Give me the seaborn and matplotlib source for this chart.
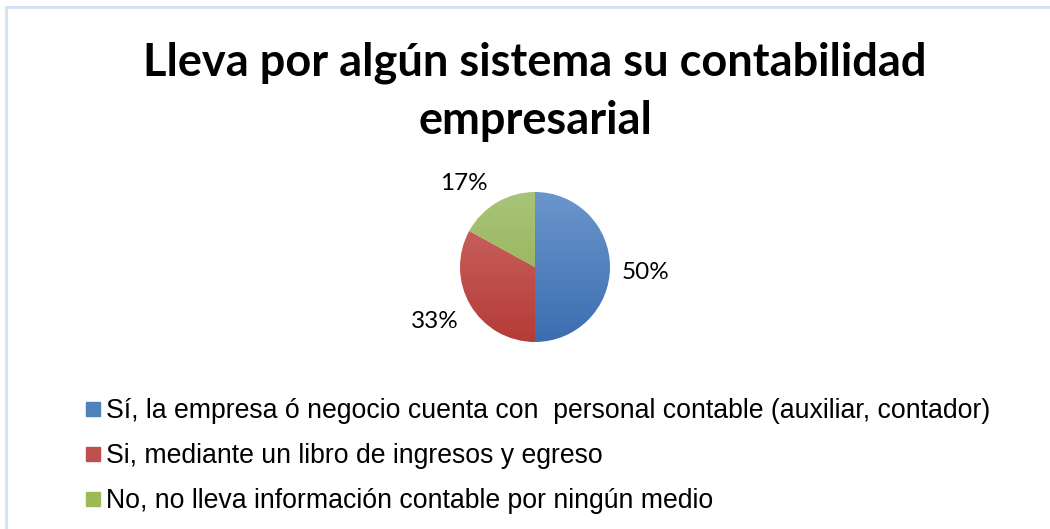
import numpy as np
import matplotlib
matplotlib.use("Agg")
import matplotlib.pyplot as plt
from matplotlib.lines import Line2D
from matplotlib.colors import LinearSegmentedColormap
import seaborn as sns

# ---- data ----
title_line1 = "Lleva por algún sistema su contabilidad"
title_line2 = "empresarial"
categories = [
    "Sí, la empresa ó negocio cuenta con  personal contable (auxiliar, contador)",
    "Si, mediante un libro de ingresos y egreso",
    "No, no lleva información contable por ningún medio",
]
values = [50, 33, 17]
pct_labels = ["50%", "33%", "17%"]
caption = "Gráfico 6 Sistema de contabilidad"

base_colors = ["#4F81BD", "#C0504D", "#9BBB59"]
top_colors = ["#6b96cc", "#cd6a66", "#a9c47a"]
bot_colors = ["#3b6db0", "#b53b38", "#8cad48"]

sns.set_theme(style="white")
plt.rcParams["font.family"] = ["Liberation Sans", "DejaVu Sans"]
plt.rcParams["text.color"] = "black"

W, H = 1050, 529
fig = plt.figure(figsize=(W / 100, H / 100), dpi=100)
fig.patch.set_facecolor("white")

# frame border (top and left visible)
fig.add_artist(Line2D([5.5 / W, 5.5 / W], [0, 1 - 6.5 / H], transform=fig.transFigure,
                      color="#d6e3f4", lw=2.2))
fig.add_artist(Line2D([5.5 / W, 1], [1 - 6.5 / H, 1 - 6.5 / H], transform=fig.transFigure,
                      color="#d6e3f4", lw=2.2))

# caption, clipped by the top edge as in the reference
fig.text(0.0, 1.0, caption, ha="left", va="baseline", fontsize=14, color="#555555")

# title
tfont = dict(ha="center", va="baseline", fontsize=32.5, fontweight="bold",
             family=["Lato", "DejaVu Sans"], color="black")
fig.text(535 / W, 1 - 76 / H, title_line1, **tfont)
fig.text(535 / W, 1 - 134 / H, title_line2, **tfont)

# pie
cx, cy, r = 535, 529 - 267, 75
ax = fig.add_axes([(cx - 2 * r) / W, (cy - 2 * r) / H, 4 * r / W, 4 * r / H])
wedges, texts = ax.pie(values, colors=base_colors, startangle=90, counterclock=False,
                       radius=1, wedgeprops=dict(edgecolor="none", linewidth=0),
                       labels=pct_labels, labeldistance=1.5,
                       textprops=dict(fontsize=17.5, family=["Lato", "DejaVu Sans"],
                                      color="black", ha="center", va="center"))
grad = np.linspace(0, 1, 256).reshape(-1, 1)
for w, tc, bc in zip(wedges, top_colors, bot_colors):
    cmap = LinearSegmentedColormap.from_list("g", [tc, bc])
    im = ax.imshow(grad, cmap=cmap, extent=[-1, 1, -1, 1], origin="upper",
                   aspect="auto", zorder=3)
    im.set_clip_path(w)
    w.set_facecolor("none")
# label placement like the reference (outside end)
texts[0].set_position((1.48, -0.07))
texts[1].set_position((-1.33, -0.72))
texts[2].set_position((-0.95, 1.12))
ax.set_xlim(-2, 2)
ax.set_ylim(-2, 2)
ax.axis("off")

# legend
handles = [Line2D([], [], marker="s", linestyle="none", markersize=9.8,
                  markerfacecolor=c, markeredgecolor=c) for c in base_colors]
leg = fig.legend(handles, categories, loc="upper left",
                 bbox_to_anchor=(85 / W, 1 - 398 / H), frameon=False,
                 fontsize=19.2, handlelength=0.58, handletextpad=0.2,
                 labelspacing=0.71, borderaxespad=0, borderpad=0)
for t in leg.get_texts():
    t.set_color("black")

fig.savefig("out.png", dpi=100, facecolor="white")
